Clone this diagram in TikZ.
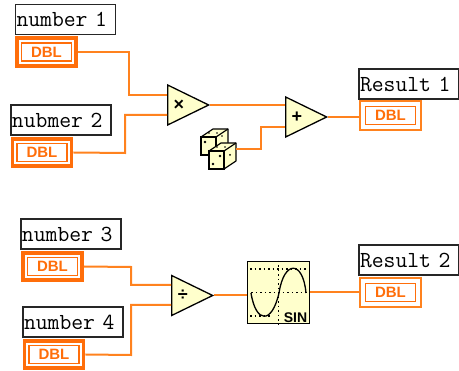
\documentclass[tikz,border=0pt]{standalone}
\usepackage{fontspec}
\usepackage{xcolor}
\usetikzlibrary{shapes.geometric}
\newfontfamily\tagfont{Liberation Sans}
\definecolor{wirecol}{RGB}{255,130,30}
\definecolor{dblcol}{RGB}{255,110,10}
\definecolor{nodecol}{RGB}{255,255,204}
\tikzset{
  namebox/.style={draw=black!85,line width=1.4pt,fill=white,minimum width=100pt,minimum height=30pt,inner sep=1pt,text width=98pt,align=left,font=\fontsize{23}{23}\selectfont\ttfamily},
  ctlbox/.style={draw=dblcol,line width=3.6pt,fill=white,minimum width=59pt,minimum height=27.5pt,inner sep=0pt},
  indbox/.style={draw=wirecol,line width=2pt,fill=white,minimum width=61pt,minimum height=29pt,inner sep=0pt},
  dbltag/.style={draw=dblcol,line width=1.8pt,minimum width=50pt,minimum height=18pt,inner sep=0pt,text=dblcol,font=\fontsize{15}{15}\selectfont\tagfont\bfseries},
  opnode/.style={isosceles triangle,isosceles triangle stretches,shape border rotate=0,draw=black,line width=1.3pt,fill=nodecol,minimum width=40pt,minimum height=41pt,inner sep=0pt,anchor=lower side,font=\fontsize{18}{18}\selectfont\tagfont\bfseries},
  wire/.style={draw=wirecol,line width=2pt},
  dieface/.style={draw=black,line width=1.2pt,fill=nodecol,minimum width=15pt,minimum height=18pt,inner sep=0pt},
  diepart/.style={draw=black,line width=1.2pt,fill=nodecol,line join=round},
  griddots/.style={line width=1.3pt,dash pattern=on 1.5pt off 3pt}
}
\begin{document}
\begin{tikzpicture}[x=1pt,y=-1pt]
  \useasboundingbox (0,0) rectangle (459,371);

  \node [namebox] (nameA) at (65.5,19.5) {number 1};
  \node [ctlbox] (dblA) at (46.5,52) {};
  \node [dbltag] (tagA) at (dblA) {DBL};
  \node [namebox] (nameB) at (61,120) {nubmer 2};
  \node [ctlbox] (dblB) at (42,152.5) {};
  \node [dbltag] (tagB) at (dblB) {DBL};
  \node [namebox] (nameC) at (409,84) {Result 1};
  \node [indbox] (dblC) at (390.5,115.5) {};
  \node [dbltag] (tagC) at (dblC) {DBL};

  \node [opnode] (mul) at (167,105) {×};
  \node [opnode] (add) at (285,117) {+};
  \coordinate (mulA) at (167,95);
  \coordinate (mulB) at (167,115);
  \coordinate (addA) at (285,105);
  \coordinate (addB) at (285,127);

  \draw [diepart] (201,137) -- (213,129) -- (228,129) -- (228,147) -- (216,155) -- (216,137) -- cycle;
  \draw [diepart] (216,137) -- (228,129);
  \node [dieface] (dieA) at (208.5,146) {};
  \fill (205,142) circle (1.3pt) (212,150) circle (1.3pt) (209,133) circle (0.9pt) (217,133) circle (0.9pt) (222,136) circle (0.9pt);
  \draw [diepart] (209,151) -- (221,143) -- (236,143) -- (236,161) -- (224,169) -- (224,151) -- cycle;
  \draw [diepart] (224,151) -- (236,143);
  \node [dieface] (dieB) at (216.5,160) {};
  \fill (213,164) circle (1.3pt) (220,156) circle (1.3pt) (230,155) circle (1pt) (217,147) circle (0.9pt) (225,147) circle (0.9pt);
  \coordinate (dieOut) at (236,149);

  \draw [wire] (dblA.east) -- (129,52) |- (mulA);
  \draw [wire] (dblB.east) -- (125,153) |- (mulB);
  \draw [wire] (mul.apex) -- (addA);
  \draw [wire] (dieOut) -- (261,149) |- (addB);
  \draw [wire] (add.apex) -- (add.apex -| dblC.west);

  \node [namebox] (nameD) at (71,234) {number 3};
  \node [ctlbox] (dblD) at (52.5,266.5) {};
  \node [dbltag] (tagD) at (dblD) {DBL};
  \node [namebox] (nameE) at (73,322) {number 4};
  \node [ctlbox] (dblE) at (54,354.5) {};
  \node [dbltag] (tagE) at (dblE) {DBL};
  \node [namebox] (nameF) at (409,260) {Result 2};
  \node [indbox] (dblF) at (390.5,292.5) {};
  \node [dbltag] (tagF) at (dblF) {DBL};

  \node [opnode] (div) at (171,295.5) {÷};
  \coordinate (divA) at (171,285);
  \coordinate (divB) at (171,305);
  \node [draw=black,line width=1.5pt,fill=nodecol,minimum width=62pt,minimum height=62pt,inner sep=0pt] (sine) at (278.5,292.5) {};
  \draw [griddots] (sine.west) -- (sine.east);
  \draw [griddots] (sine.north) -- (sine.south);
  \draw [griddots] (250,269) -- (307,269);
  \draw [griddots] (250,316) -- (270,316);
  \draw [line width=1.3pt] (251,293) .. controls (256,324) and (272,324) .. (279,293) .. controls (284,260) and (303,260) .. (306,293);
  \node [font=\fontsize{14}{14}\selectfont\tagfont\bfseries,inner sep=0.5pt,fill=nodecol] (sinetag) at (295.5,317.5) {SIN};

  \draw [wire] (dblD.east) -- (131,267) |- (divA);
  \draw [wire] (dblE.east) -- (131,355) |- (divB);
  \draw [wire] (div.apex) -- (sine.west |- div.apex);
  \draw [wire] (sine.east) -- (dblF.west);
\end{tikzpicture}
\end{document}
